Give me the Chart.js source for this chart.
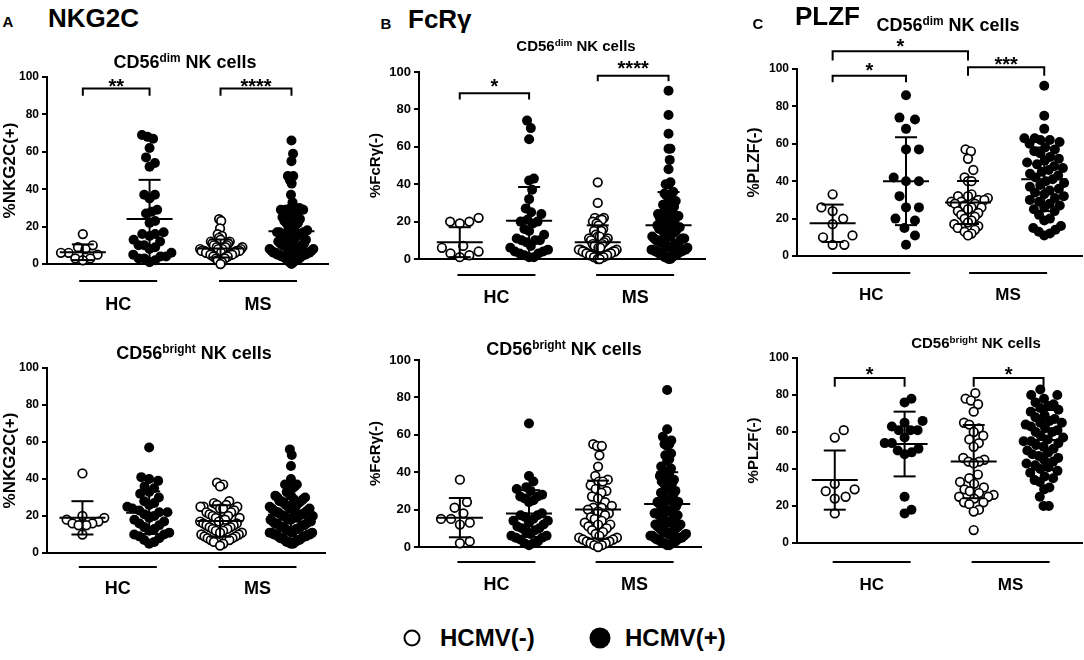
<!DOCTYPE html>
<html>
<head>
<meta charset="utf-8">
<script src="https://cdn.jsdelivr.net/npm/chart.js@4.4.1/dist/chart.umd.min.js"></script>
<style>
  html, body { margin: 0; padding: 0; background: #fff; }
  body { width: 1084px; height: 660px; position: relative; overflow: hidden; font-family: Arial, "Liberation Sans", sans-serif; color: #000; }
  .box { position: absolute; }
  .txt { position: absolute; white-space: nowrap; font-weight: bold; line-height: 1; }
  .ctr { transform: translate(-50%, -50%); }
  .lft { transform: translateY(-50%); }
  .sup { font-size: 0.66em; position: relative; top: -0.5em; }
  .dot { position: absolute; border-radius: 50%; box-sizing: border-box; transform: translate(-50%, -50%); }
</style>
</head>
<body>

<div class="box" id="wrap-a1"><canvas id="a1"></canvas></div>
<div class="box" id="wrap-a2"><canvas id="a2"></canvas></div>
<div class="box" id="wrap-b1"><canvas id="b1"></canvas></div>
<div class="box" id="wrap-b2"><canvas id="b2"></canvas></div>
<div class="box" id="wrap-c1"><canvas id="c1"></canvas></div>
<div class="box" id="wrap-c2"><canvas id="c2"></canvas></div>

<div class="txt ctr" style="left:8px;top:21px;font-size:15px">A</div>
<div class="txt lft" style="left:48px;top:18px;font-size:26px">NKG2C</div>
<div class="txt ctr" style="left:386px;top:23px;font-size:15px">B</div>
<div class="txt lft" style="left:408px;top:19px;font-size:26px">FcRγ</div>
<div class="txt ctr" style="left:758px;top:23px;font-size:15px">C</div>
<div class="txt lft" style="left:795px;top:16px;font-size:26px">PLZF</div>

<div class="txt ctr" style="left:185px;top:62px;font-size:18px">CD56<span class="sup">dim</span> NK cells</div>
<div class="txt ctr" style="left:194px;top:353px;font-size:18px">CD56<span class="sup">bright</span> NK cells</div>
<div class="txt ctr" style="left:576px;top:45px;font-size:15px">CD56<span class="sup">dim</span> NK cells</div>
<div class="txt ctr" style="left:564px;top:349px;font-size:18px">CD56<span class="sup">bright</span> NK cells</div>
<div class="txt ctr" style="left:948px;top:25px;font-size:18px">CD56<span class="sup">dim</span> NK cells</div>
<div class="txt ctr" style="left:976px;top:342px;font-size:15px">CD56<span class="sup">bright</span> NK cells</div>

<div class="dot" style="left:412px;top:638px;width:17px;height:17px;border:2.5px solid #000;background:#fff"></div>
<div class="txt lft" style="left:440px;top:638px;font-size:24px">HCMV(-)</div>
<div class="dot" style="left:600px;top:638px;width:21px;height:21px;background:#000"></div>
<div class="txt lft" style="left:625px;top:638px;font-size:24px">HCMV(+)</div>

<script>
// ---- values (% of cells), groups: HC HCMV-, HC HCMV+, MS HCMV-, MS HCMV+
const groupNames = ["HC", "MS"];

// NKG2C, CD56dim
const nkg2cDimHcNeg = [16, 10, 9, 8, 6, 6, 5, 3, 3, 2];
const nkg2cDimHcPos = [69, 68, 67, 62, 57, 54, 52, 37, 37, 35, 29, 28, 27, 23, 22, 17, 16, 16, 15, 13, 12, 10, 10, 9, 8, 6, 5, 4, 4, 3, 3, 2, 1];
const nkg2cDimMsNeg = [24, 23, 19, 16, 15, 14, 13, 12, 12, 11, 11, 10, 10, 10, 9, 9, 9, 9, 8, 8, 8, 8, 8, 7, 7, 7, 7, 7, 7, 6, 6, 6, 6, 6, 6, 5, 5, 5, 5, 5, 4, 4, 4, 4, 3, 3, 3, 2, 2, 1, 0];
const nkg2cDimMsPos = [66, 59, 55, 47, 47, 45, 43, 37, 33, 30, 30, 29, 29, 29, 29, 28, 28, 27, 26, 25, 25, 24, 24, 23, 22, 22, 21, 20, 20, 19, 18, 18, 17, 17, 17, 16, 16, 16, 16, 15, 15, 14, 14, 13, 13, 13, 12, 12, 11, 11, 10, 10, 10, 9, 9, 9, 8, 8, 8, 8, 7, 7, 7, 7, 6, 6, 6, 6, 6, 5, 5, 5, 5, 4, 4, 4, 3, 3, 3, 2, 2, 1, 1, 0];
const nkg2cDimMean = [6.3, 24, 8.3, 17.5];
const nkg2cDimSd = [4.2, 21, 4.8, 12];

// NKG2C, CD56bright
const nkg2cBrightHcNeg = [43, 20, 19, 18, 17, 16, 16, 15, 15, 10];
const nkg2cBrightHcPos = [57, 41, 40, 39, 36, 35, 33, 32, 30, 28, 27, 26, 25, 24, 23, 22, 22, 21, 20, 19, 18, 17, 16, 15, 14, 13, 12, 11, 10, 10, 9, 8, 7, 6, 5];
const nkg2cBrightMsNeg = [38, 37, 36, 28, 27, 26, 26, 25, 25, 25, 24, 24, 23, 22, 22, 21, 20, 20, 19, 19, 18, 18, 17, 17, 16, 16, 15, 15, 14, 14, 13, 13, 12, 12, 11, 11, 10, 10, 9, 9, 8, 8, 7, 7, 7, 6, 6, 5, 4];
const nkg2cBrightMsPos = [56, 53, 47, 40, 37, 37, 36, 35, 33, 32, 31, 31, 30, 30, 29, 29, 28, 28, 28, 27, 27, 26, 26, 25, 25, 25, 24, 24, 24, 23, 23, 23, 22, 22, 22, 21, 21, 21, 20, 20, 20, 20, 19, 19, 19, 18, 18, 18, 17, 17, 17, 16, 16, 16, 15, 15, 15, 14, 14, 14, 13, 13, 13, 12, 12, 12, 11, 11, 11, 11, 10, 10, 10, 10, 9, 9, 9, 8, 8, 8, 7, 7, 7, 6, 6, 6, 5, 5];
const nkg2cBrightMean = [19, 21.8, 17.3, 20.7];
const nkg2cBrightSd = [9, 11.5, 8.5, 8.5];

// FcRγ, CD56dim
const fcrDimHcNeg = [22, 20, 20, 19, 7, 6, 4, 3, 2, 1];
const fcrDimHcPos = [74, 70, 64, 43, 42, 37, 32, 27, 25, 24, 21, 20, 20, 19, 16, 15, 13, 11, 10, 10, 10, 9, 7, 6, 5, 4, 4, 3, 3, 2, 1, 1];
const fcrDimMsNeg = [41, 30, 22, 22, 21, 21, 20, 19, 18, 16, 15, 15, 13, 12, 12, 11, 11, 10, 10, 9, 8, 8, 7, 7, 6, 6, 5, 5, 5, 4, 4, 4, 4, 3, 3, 3, 3, 2, 2, 2, 2, 1, 1, 1, 1, 0, 0];
const fcrDimMsPos = [90, 77, 67, 59, 59, 53, 48, 41, 40, 40, 36, 35, 35, 34, 32, 31, 30, 29, 28, 27, 26, 26, 25, 24, 24, 23, 23, 22, 22, 21, 21, 20, 20, 19, 19, 18, 18, 17, 17, 16, 16, 15, 15, 14, 14, 13, 13, 12, 12, 12, 11, 11, 11, 10, 10, 10, 9, 9, 9, 8, 8, 8, 7, 7, 7, 6, 6, 6, 5, 5, 5, 5, 4, 4, 4, 4, 3, 3, 3, 2, 2, 2, 1, 1, 1, 0, 0];
const fcrDimMean = [9, 20.5, 9, 18];
const fcrDimSd = [8, 18, 9, 17.8];

// FcRγ, CD56bright
const fcrBrightHcNeg = [36, 24, 21, 18, 15, 15, 13, 12, 3, 2];
const fcrBrightHcPos = [66, 38, 35, 32, 31, 30, 28, 27, 27, 26, 25, 24, 18, 17, 17, 16, 15, 14, 14, 13, 12, 11, 10, 10, 9, 8, 7, 6, 6, 5, 5, 4, 3, 2, 2, 1];
const fcrBrightMsNeg = [55, 54, 54, 49, 43, 38, 36, 35, 35, 33, 31, 30, 29, 27, 26, 24, 22, 21, 21, 20, 19, 18, 17, 16, 15, 14, 13, 12, 12, 11, 10, 9, 8, 7, 6, 5, 5, 4, 4, 3, 3, 2, 2, 1, 1, 0];
const fcrBrightMsPos = [84, 63, 59, 57, 55, 55, 54, 50, 49, 47, 46, 43, 42, 41, 40, 39, 38, 37, 36, 35, 34, 34, 33, 32, 31, 30, 29, 28, 27, 26, 26, 25, 25, 24, 24, 23, 22, 22, 21, 21, 20, 20, 19, 19, 18, 18, 17, 17, 16, 16, 15, 15, 14, 14, 13, 13, 12, 12, 11, 11, 10, 10, 9, 9, 8, 8, 8, 7, 7, 7, 6, 6, 6, 5, 5, 5, 4, 4, 4, 3, 3, 3, 2, 2, 2, 1, 1];
const fcrBrightMean = [15.7, 17.9, 20, 23];
const fcrBrightSd = [10.5, 12.5, 15.5, 17];

// PLZF, CD56dim
const plzfDimHcNeg = [33, 26, 24, 20, 17, 11, 10, 6, 6];
const plzfDimHcPos = [86, 74, 73, 68, 57, 57, 42, 40, 40, 32, 26, 26, 20, 19, 15, 11, 6];
const plzfDimMsNeg = [57, 56, 52, 46, 42, 40, 40, 33, 32, 32, 31, 30, 30, 29, 29, 28, 28, 27, 26, 26, 25, 24, 23, 22, 21, 20, 19, 18, 17, 16, 15, 15, 14, 13, 12, 11];
const plzfDimMsPos = [91, 75, 68, 63, 63, 62, 62, 61, 60, 58, 57, 56, 55, 53, 52, 51, 50, 49, 48, 47, 46, 45, 44, 43, 42, 41, 40, 39, 38, 37, 36, 35, 34, 33, 32, 31, 30, 29, 28, 27, 26, 25, 24, 22, 20, 19, 16, 15, 14, 13, 12, 11];
const plzfDimMean = [17.5, 40, 28.6, 41];
const plzfDimSd = [10, 23.5, 11.5, 17];

// PLZF, CD56bright
const plzfBrightHcNeg = [61, 57, 32, 29, 28, 25, 24, 16];
const plzfBrightHcPos = [78, 76, 66, 65, 63, 61, 61, 61, 57, 54, 54, 51, 50, 49, 48, 25, 18, 16];
const plzfBrightMsNeg = [81, 78, 77, 75, 71, 65, 64, 62, 60, 58, 56, 54, 52, 46, 45, 44, 44, 43, 37, 35, 33, 32, 30, 29, 28, 27, 26, 25, 25, 24, 22, 22, 21, 18, 17, 7];
const plzfBrightMsPos = [83, 80, 80, 78, 76, 75, 74, 73, 72, 71, 69, 68, 67, 66, 65, 65, 64, 63, 62, 61, 60, 60, 58, 57, 56, 55, 55, 54, 53, 52, 51, 50, 49, 48, 47, 46, 45, 44, 43, 42, 41, 40, 39, 38, 36, 35, 34, 33, 30, 29, 25, 20, 20];
const plzfBrightMean = [34, 53.5, 44, 55.7];
const plzfBrightSd = [16, 17.5, 19.8, 16.2];

const yTicks = [0, 20, 40, 60, 80, 100];

// ---- layout of each panel (pixels)
const FONT = 'Arial, "Liberation Sans", sans-serif';
const X_AXIS_H = 60;

const panels = [
  { id: "a1", left: 0, top: 60, axisW: 47, padTop: 17, plotW: 283, plotH: 187, cols: [0.51, 1.46, 2.47, 3.48],
    yTitle: "%NKG2C(+)", titleSize: 17, tickSize: 12, groupSize: 18, lineOff: 17, labelOff: 41, spread: 22, dia: 12,
    sets: [nkg2cDimHcNeg, nkg2cDimHcPos, nkg2cDimMsNeg, nkg2cDimMsPos], mean: nkg2cDimMean, sd: nkg2cDimSd,
    brackets: [[0, 1, 93.8, 90, "**", 97.7], [2, 3, 93.8, 90, "****", 97.7]] },
  { id: "a2", left: 0, top: 351, axisW: 47, padTop: 17, plotW: 280, plotH: 185, cols: [0.51, 1.47, 2.49, 3.51],
    yTitle: "%NKG2C(+)", titleSize: 17, tickSize: 12, groupSize: 18, lineOff: 14, labelOff: 36, spread: 22, dia: 12,
    sets: [nkg2cBrightHcNeg, nkg2cBrightHcPos, nkg2cBrightMsNeg, nkg2cBrightMsPos], mean: nkg2cBrightMean, sd: nkg2cBrightSd,
    brackets: [] },
  { id: "b1", left: 367, top: 50, axisW: 52, padTop: 22, plotW: 288, plotH: 187, cols: [0.57, 1.54, 2.5, 3.49],
    yTitle: "%FcRγ(-)", titleSize: 15, tickSize: 13, groupSize: 18, lineOff: 16, labelOff: 39, spread: 19, dia: 12,
    sets: [fcrDimHcNeg, fcrDimHcPos, fcrDimMsNeg, fcrDimMsPos], mean: fcrDimMean, sd: fcrDimSd,
    brackets: [[0, 1, 88.6, 85.3, "*", 95], [2, 3, 98, 95, "****", 104.6]] },
  { id: "b2", left: 367, top: 343, axisW: 52, padTop: 17, plotW: 284, plotH: 187, cols: [0.58, 1.56, 2.54, 3.52],
    yTitle: "%FcRγ(-)", titleSize: 15, tickSize: 13, groupSize: 18, lineOff: 15, labelOff: 38, spread: 19, dia: 12,
    sets: [fcrBrightHcNeg, fcrBrightHcPos, fcrBrightMsNeg, fcrBrightMsPos], mean: fcrBrightMean, sd: fcrBrightSd,
    brackets: [] },
  { id: "c1", left: 745, top: 29, axisW: 52, padTop: 40, plotW: 287, plotH: 187, cols: [0.5, 1.53, 2.4, 3.47],
    yTitle: "%PLZF(-)", titleSize: 16, tickSize: 12, groupSize: 17, lineOff: 17, labelOff: 39, spread: 20, dia: 13,
    sets: [plzfDimHcNeg, plzfDimHcPos, plzfDimMsNeg, plzfDimMsPos], mean: plzfDimMean, sd: plzfDimSd,
    brackets: [[0, 1, 96.4, 92.9, "*", 101.8], [0, 2, 109.5, 104.6, "*", 114.8], [2, 3, 100.9, 96.4, "***", 105]] },
  { id: "c2", left: 745, top: 341, axisW: 52, padTop: 17, plotW: 287, plotH: 185, cols: [0.53, 1.51, 2.48, 3.46],
    yTitle: "%PLZF(-)", titleSize: 15, tickSize: 12, groupSize: 17, lineOff: 19, labelOff: 42, spread: 20, dia: 13,
    sets: [plzfBrightHcNeg, plzfBrightHcPos, plzfBrightMsNeg, plzfBrightMsPos], mean: plzfBrightMean, sd: plzfBrightSd,
    brackets: [[0, 1, 89.2, 84.4, "*", 94], [2, 3, 89.2, 84.4, "*", 94]] }
];

// beeswarm offsets in pixels, so dots of one column sit side by side
function swarm(vals, d, yPx, maxHalf) {
  const placed = [];
  const off = new Array(vals.length);
  const order = vals.map((v, i) => i).sort((a, b) => vals[a] - vals[b]);
  for (const i of order) {
    const y = vals[i] * yPx;
    const near = placed.filter(p => Math.abs(p.y - y) < d);
    const cands = [0];
    near.forEach(p => {
      const dx = Math.sqrt(d * d - (p.y - y) ** 2);
      cands.push(p.x + dx, p.x - dx);
    });
    cands.sort((a, b) => Math.abs(a) - Math.abs(b) || b - a);
    const x = cands.find(c => near.every(p => (p.x - c) ** 2 + (p.y - y) ** 2 >= d * d - 0.01));
    placed.push({ x, y });
    off[i] = x;
  }
  const w = Math.max(...off.map(Math.abs));
  const k = w > maxHalf ? maxHalf / w : 1;
  return off.map(o => o * k);
}

function line(ctx, x1, y1, x2, y2) {
  ctx.beginPath();
  ctx.moveTo(x1, y1);
  ctx.lineTo(x2, y2);
  ctx.stroke();
}

// mean ± SD bars, significance brackets and the HC / MS group marks
function annotations(p) {
  return {
    id: "annot-" + p.id,
    afterDatasetsDraw(chart) {
      const { ctx, chartArea } = chart;
      const x = chart.scales.x, y = chart.scales.y;
      ctx.save();
      ctx.strokeStyle = "#000";
      ctx.fillStyle = "#000";
      ctx.lineWidth = 2;

      p.cols.forEach((c, i) => {
        const cx = x.getPixelForValue(c);
        const m = y.getPixelForValue(p.mean[i]);
        const hi = y.getPixelForValue(p.mean[i] + p.sd[i]);
        const lo = y.getPixelForValue(Math.max(0, p.mean[i] - p.sd[i]));
        line(ctx, cx - 23, m, cx + 23, m);
        line(ctx, cx, hi, cx, lo);
        line(ctx, cx - 11, hi, cx + 11, hi);
        line(ctx, cx - 11, lo, cx + 11, lo);
      });

      ctx.font = "bold 20px " + FONT;
      ctx.textAlign = "center";
      ctx.textBaseline = "alphabetic";
      p.brackets.forEach(([a, b, top, drop, label, ty]) => {
        const x1 = x.getPixelForValue(p.cols[a]), x2 = x.getPixelForValue(p.cols[b]);
        const yt = y.getPixelForValue(top), yd = y.getPixelForValue(drop);
        ctx.beginPath();
        ctx.moveTo(x1, yd);
        ctx.lineTo(x1, yt);
        ctx.lineTo(x2, yt);
        ctx.lineTo(x2, yd);
        ctx.stroke();
        ctx.fillText(label, (x1 + x2) / 2, y.getPixelForValue(ty) + 11.5);
      });

      ctx.font = "bold " + p.groupSize + "px " + FONT;
      ctx.textBaseline = "middle";
      groupNames.forEach((g, k) => {
        const mid = (x.getPixelForValue(p.cols[2 * k]) + x.getPixelForValue(p.cols[2 * k + 1])) / 2 + 2;
        line(ctx, mid - 39, chartArea.bottom + p.lineOff, mid + 39, chartArea.bottom + p.lineOff);
        ctx.fillText(g, mid, chartArea.bottom + p.labelOff);
      });
      ctx.restore();
    }
  };
}

panels.forEach(p => {
  const w = p.axisW + p.plotW + 4;
  const h = p.padTop + p.plotH + X_AXIS_H;
  const wrap = document.getElementById("wrap-" + p.id);
  Object.assign(wrap.style, { left: p.left + "px", top: p.top + "px", width: w + "px", height: h + "px" });

  const xUnit = p.plotW / 4;
  const yPx = p.plotH / 100;
  const datasets = p.sets.map((vals, i) => {
    const off = swarm(vals, p.dia, yPx, p.spread);
    const open = i % 2 === 0;
    return {
      data: vals.map((v, j) => ({ x: p.cols[i] + off[j] / xUnit, y: v })),
      pointStyle: "circle",
      pointRadius: open ? 4.3 : 5,
      pointBorderWidth: open ? 1.7 : 0,
      pointBackgroundColor: open ? "#fff" : "#000",
      pointBorderColor: "#000",
      clip: false
    };
  });

  new Chart(document.getElementById(p.id), {
    type: "scatter",
    data: { datasets },
    options: {
      responsive: true,
      maintainAspectRatio: false,
      animation: false,
      events: [],
      layout: { padding: { top: p.padTop, right: 4, left: 0, bottom: 0 } },
      plugins: { legend: { display: false }, tooltip: { enabled: false } },
      scales: {
        x: {
          type: "linear", min: 0, max: 4,
          grid: { display: false },
          ticks: { display: false },
          border: { display: true, color: "#000", width: 2 },
          afterFit: s => { s.height = X_AXIS_H; }
        },
        y: {
          type: "linear", min: 0, max: 100,
          afterBuildTicks: s => { s.ticks = yTicks.map(v => ({ value: v })); },
          grid: { drawOnChartArea: false, drawTicks: true, tickLength: 5, color: "#000", lineWidth: 2 },
          border: { display: true, color: "#000", width: 2 },
          ticks: { color: "#000", padding: 3, font: { family: FONT, size: p.tickSize, weight: "bold" } },
          title: { display: true, text: p.yTitle, color: "#000", padding: 0, font: { family: FONT, size: p.titleSize, weight: "bold" } },
          afterFit: s => { s.width = p.axisW; }
        }
      }
    },
    plugins: [annotations(p)]
  });
});
</script>
</body>
</html>
